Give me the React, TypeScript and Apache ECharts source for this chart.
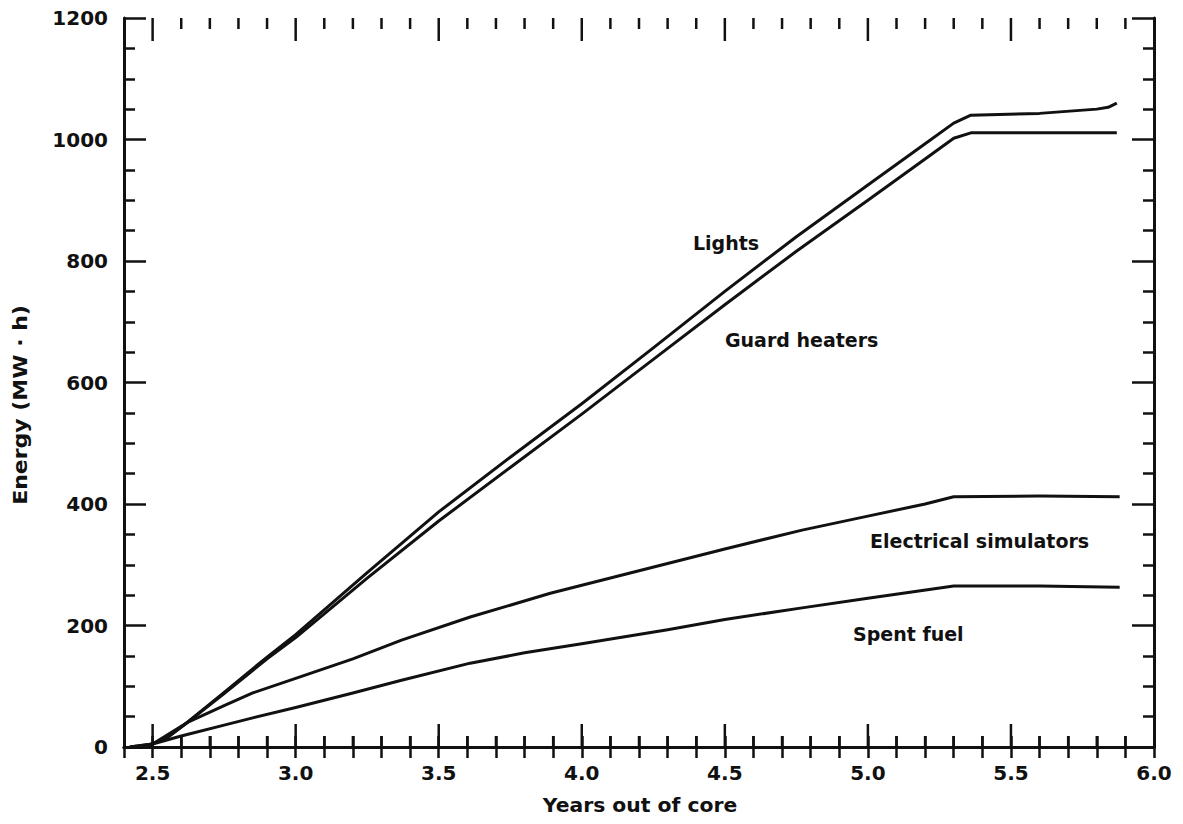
import React, { useEffect, useRef } from "react";
import * as echarts from "echarts";

const lightsX = [2.42, 2.5, 2.55, 2.62, 2.75, 2.9, 3.0, 3.25, 3.5, 3.75, 4.0, 4.25, 4.5, 4.75, 5.0, 5.2, 5.3, 5.36, 5.6, 5.8, 5.84, 5.87];
const lightsY = [0, 5, 15, 40, 90, 148, 185, 287, 387, 477, 565, 657, 750, 840, 925, 993, 1027, 1040, 1043, 1050, 1053, 1060];

const guardX = [2.42, 2.5, 2.55, 2.62, 2.75, 2.9, 3.0, 3.25, 3.5, 3.75, 4.0, 4.25, 4.5, 4.75, 5.0, 5.2, 5.3, 5.36, 5.6, 5.87];
const guardY = [0, 5, 15, 40, 88, 145, 180, 278, 372, 460, 548, 638, 728, 816, 900, 968, 1002, 1011, 1011, 1011];

const elecX = [2.45, 2.5, 2.62, 2.75, 2.85, 3.0, 3.2, 3.37, 3.61, 3.89, 4.2, 4.5, 4.77, 5.0, 5.2, 5.3, 5.6, 5.88];
const elecY = [0, 5, 40, 68, 89, 113, 145, 176, 214, 253, 290, 326, 357, 380, 400, 412, 413, 412];

const spentX = [2.45, 2.5, 2.6, 2.75, 2.85, 3.0, 3.2, 3.37, 3.61, 3.8, 4.0, 4.3, 4.5, 4.77, 5.0, 5.3, 5.6, 5.88];
const spentY = [0, 5, 18, 36, 48, 65, 89, 110, 138, 155, 170, 193, 210, 229, 245, 265, 265, 263];

const majorXTicks = [2.5, 3.0, 3.5, 4.0, 4.5, 5.0, 5.5];
const minorXTicks = [
  2.6, 2.7, 2.8, 2.9, 3.1, 3.2, 3.3, 3.4, 3.6, 3.7, 3.8, 3.9, 4.1, 4.2, 4.3, 4.4,
  4.6, 4.7, 4.8, 4.9, 5.1, 5.2, 5.3, 5.4, 5.6, 5.7, 5.8, 5.9,
];

const xTitle = "Years out of core";
const yTitle = "Energy (MW · h)";
const annotations = ["Lights", "Guard heaters", "Electrical simulators", "Spent fuel"];

const zip = (xs: number[], ys: number[]) => xs.map((x, i) => [x, ys[i]]);

const INK = "#111";
const FONT = "DejaVu Sans";

const isHalf = (v: number) => Math.abs(v * 2 - Math.round(v * 2)) < 1e-6;

export default function App() {
  const ref = useRef<HTMLDivElement>(null);
  useEffect(() => {
    if (!ref.current) return;
    const chart = echarts.init(ref.current, null, { renderer: "svg" });
    const lineSeries = (data: number[][]) => ({
      type: "line",
      data,
      showSymbol: false,
      symbol: "none",
      smooth: false,
      lineStyle: { color: INK, width: 3, join: "round" },
      silent: true,
      z: 3,
    });
    const xCommon = {
      type: "value",
      min: 2.4,
      max: 6.0,
      interval: 0.1,
      splitLine: { show: false },
      axisLine: { lineStyle: { color: INK, width: 3 } },
      axisTick: { inside: true, length: 11, lineStyle: { color: INK, width: 2.5 } },
    };
    const yCommon = {
      type: "value",
      min: 0,
      max: 1200,
      interval: 200,
      splitLine: { show: false },
      axisLine: { show: true, lineStyle: { color: INK, width: 3 } },
      axisTick: { show: true, inside: true, length: 22, lineStyle: { color: INK, width: 2.5 } },
      minorTick: { show: true, splitNumber: 4, length: 11, lineStyle: { color: INK, width: 2.5 } },
    };
    chart.setOption({
      animation: false,
      backgroundColor: "#fff",
      grid: { left: 124, right: 29, top: 18, bottom: 77, containLabel: false },
      xAxis: [
        {
          ...xCommon,
          position: "bottom",
          axisLabel: {
            margin: 16,
            color: INK,
            fontFamily: FONT,
            fontWeight: "bold",
            fontSize: 20,
            formatter: (v: number) => (isHalf(v) ? v.toFixed(1) : ""),
          },
        },
        {
          ...xCommon,
          position: "top",
          axisLabel: { show: true, color: "rgba(0,0,0,0)", formatter: () => "" },
        },
      ],
      yAxis: [
        {
          ...yCommon,
          position: "left",
          axisLabel: {
            margin: 16,
            color: INK,
            fontFamily: FONT,
            fontWeight: "bold",
            fontSize: 20,
            formatter: (v: number) => String(v),
          },
        },
        { ...yCommon, position: "right", axisLabel: { show: false } },
      ],
      series: [
        lineSeries(zip(lightsX, lightsY)),
        lineSeries(zip(guardX, guardY)),
        lineSeries(zip(elecX, elecY)),
        lineSeries(zip(spentX, spentY)),
        {
          type: "custom",
          xAxisIndex: 0,
          yAxisIndex: 0,
          silent: true,
          clip: false,
          data: [...majorXTicks, ...minorXTicks].map((v) => [v, 0]),
          renderItem: (_p: any, api: any) => {
            const v = api.value(0);
            const len = isHalf(v) ? 23 : 11;
            const b = api.coord([v, 0]);
            const t = api.coord([v, 1200]);
            const style = { stroke: INK, lineWidth: 2.5 };
            return {
              type: "group",
              children: [
                { type: "line", shape: { x1: b[0], y1: b[1], x2: b[0], y2: b[1] - len }, style },
                { type: "line", shape: { x1: t[0], y1: t[1], x2: t[0], y2: t[1] + len }, style },
              ],
            };
          },
        },
        {
          type: "custom",
          xAxisIndex: 1,
          yAxisIndex: 0,
          silent: true,
          clip: false,
          data: [],
          renderItem: () => null,
        },
      ],
      graphic: [
        {
          type: "text",
          x: 640,
          y: 806,
          scaleX: 1.07,
          style: { text: xTitle, fill: INK, font: `bold 19px "${FONT}"`, align: "center", verticalAlign: "middle" },
        },
        {
          type: "text",
          x: 20,
          y: 405,
          rotation: Math.PI / 2,
          scaleX: 1.1,
          style: { text: yTitle, fill: INK, font: `bold 20px "${FONT}"`, align: "center", verticalAlign: "middle" },
        },
        {
          type: "text",
          x: 693,
          y: 243,
          style: { text: annotations[0], fill: INK, font: `bold 19px "${FONT}"`, align: "left", verticalAlign: "middle" },
        },
        {
          type: "text",
          x: 725,
          y: 340,
          style: { text: annotations[1], fill: INK, font: `bold 19px "${FONT}"`, align: "left", verticalAlign: "middle" },
        },
        {
          type: "text",
          x: 870,
          y: 541,
          style: { text: annotations[2], fill: INK, font: `bold 19px "${FONT}"`, align: "left", verticalAlign: "middle" },
        },
        {
          type: "text",
          x: 853,
          y: 634,
          style: { text: annotations[3], fill: INK, font: `bold 19px "${FONT}"`, align: "left", verticalAlign: "middle" },
        },
      ],
    });
    return () => chart.dispose();
  }, []);
  return (
    <div
      ref={ref}
      style={{ position: "fixed", left: 0, top: 0, width: 1183, height: 824, background: "#fff" }}
    />
  );
}
